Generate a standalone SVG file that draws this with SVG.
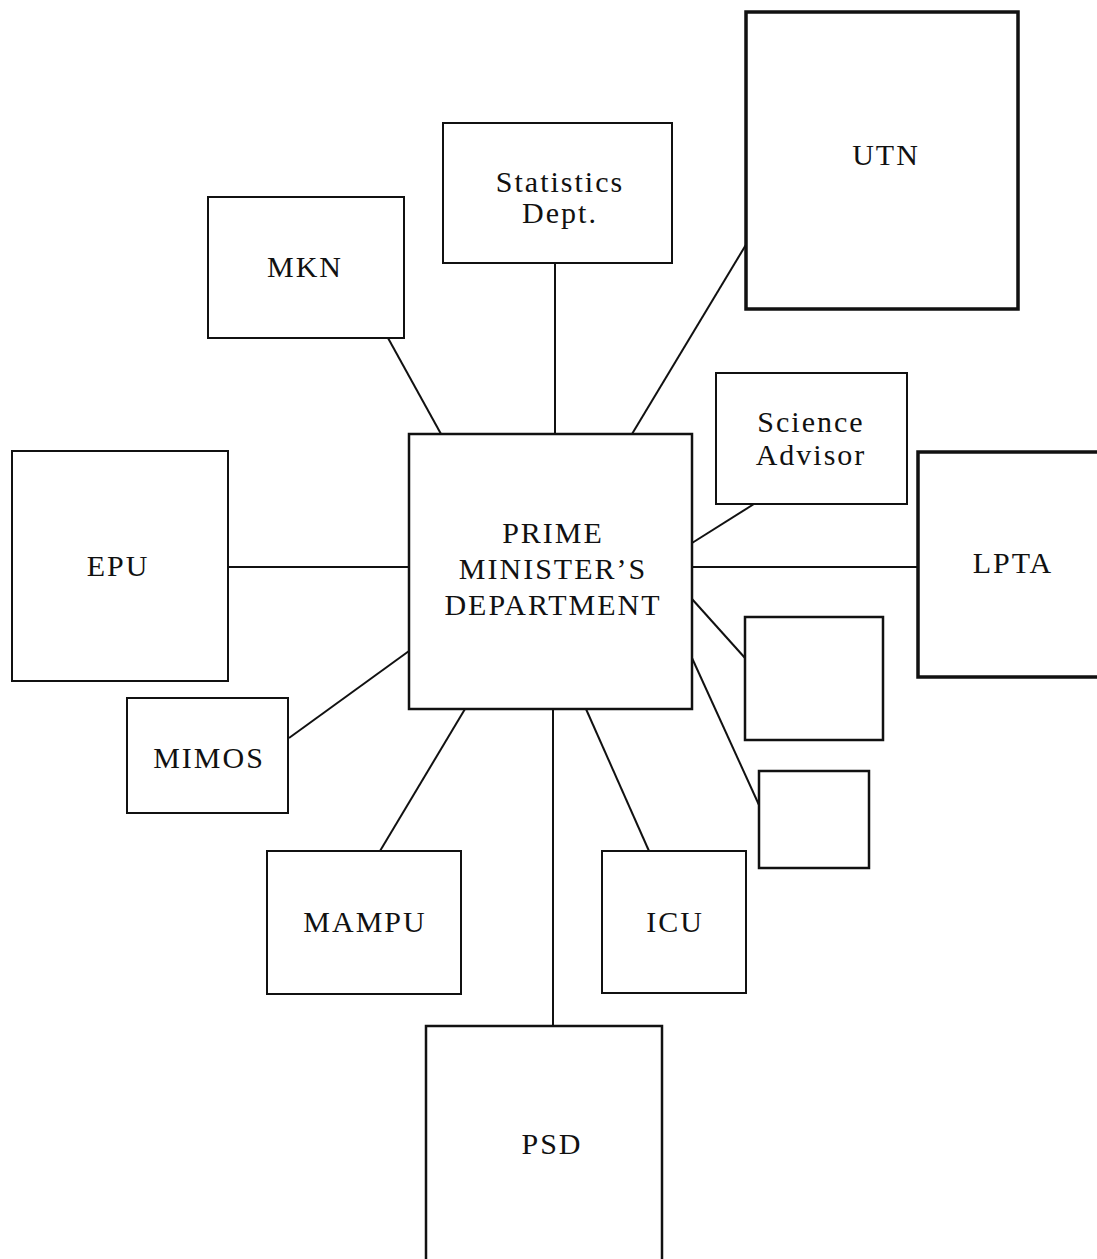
<svg xmlns="http://www.w3.org/2000/svg" width="1097" height="1259" viewBox="0 0 1097 1259">
<style>
.box{fill:#fff;stroke:#111;stroke-width:2}
.thick{stroke-width:3.5}
.mid{stroke-width:2.5}
.lbl{font-family:"Liberation Serif","Times New Roman",serif;font-size:30px;letter-spacing:2px;fill:#111;text-anchor:middle}
.con{stroke:#111;stroke-width:2;fill:none}
</style>
<rect width="1097" height="1259" fill="#fff"/>
<g id="connectors">
<line class="con" x1="388" y1="338" x2="441" y2="434"/>
<line class="con" x1="555" y1="263" x2="555" y2="434"/>
<line class="con" x1="747" y1="243" x2="632" y2="434"/>
<line class="con" x1="754" y1="504" x2="692" y2="543"/>
<line class="con" x1="692" y1="567" x2="918" y2="567"/>
<line class="con" x1="692" y1="599" x2="745" y2="658"/>
<line class="con" x1="692" y1="658" x2="759" y2="805"/>
<line class="con" x1="228" y1="567" x2="409" y2="567"/>
<line class="con" x1="289" y1="738" x2="409" y2="651"/>
<line class="con" x1="380" y1="851" x2="465" y2="709"/>
<line class="con" x1="553" y1="709" x2="553" y2="1026"/>
<line class="con" x1="649" y1="851" x2="586" y2="709"/>
</g>
<g id="pmd">
<rect class="box mid" x="409" y="434" width="283" height="275"/>
<text class="lbl" x="553" y="543">PRIME</text>
<text class="lbl" x="553" y="579">MINISTER’S</text>
<text class="lbl" x="553" y="615">DEPARTMENT</text>
</g>
<g id="utn">
<rect class="box thick" x="746" y="12" width="272" height="297"/>
<text class="lbl" x="886" y="165">UTN</text>
</g>
<g id="stats">
<rect class="box" x="443" y="123" width="229" height="140"/>
<text class="lbl" x="560" y="192">Statistics</text>
<text class="lbl" x="560" y="223">Dept.</text>
</g>
<g id="mkn">
<rect class="box" x="208" y="197" width="196" height="141"/>
<text class="lbl" x="305" y="277">MKN</text>
</g>
<g id="science">
<rect class="box" x="716" y="373" width="191" height="131"/>
<text class="lbl" x="811" y="432">Science</text>
<text class="lbl" x="811" y="465">Advisor</text>
</g>
<g id="lpta">
<rect class="box thick" x="918" y="452" width="195" height="225"/>
<text class="lbl" x="1013" y="573">LPTA</text>
</g>
<g id="blank1">
<rect class="box mid" x="745" y="617" width="138" height="123"/>
</g>
<g id="blank2">
<rect class="box mid" x="759" y="771" width="110" height="97"/>
</g>
<g id="epu">
<rect class="box" x="12" y="451" width="216" height="230"/>
<text class="lbl" x="118" y="576">EPU</text>
</g>
<g id="mimos">
<rect class="box" x="127" y="698" width="161" height="115"/>
<text class="lbl" x="209" y="768">MIMOS</text>
</g>
<g id="mampu">
<rect class="box" x="267" y="851" width="194" height="143"/>
<text class="lbl" x="365" y="932">MAMPU</text>
</g>
<g id="icu">
<rect class="box" x="602" y="851" width="144" height="142"/>
<text class="lbl" x="675" y="932">ICU</text>
</g>
<g id="psd">
<rect class="box mid" x="426" y="1026" width="236" height="250"/>
<text class="lbl" x="552" y="1154">PSD</text>
</g>
</svg>
